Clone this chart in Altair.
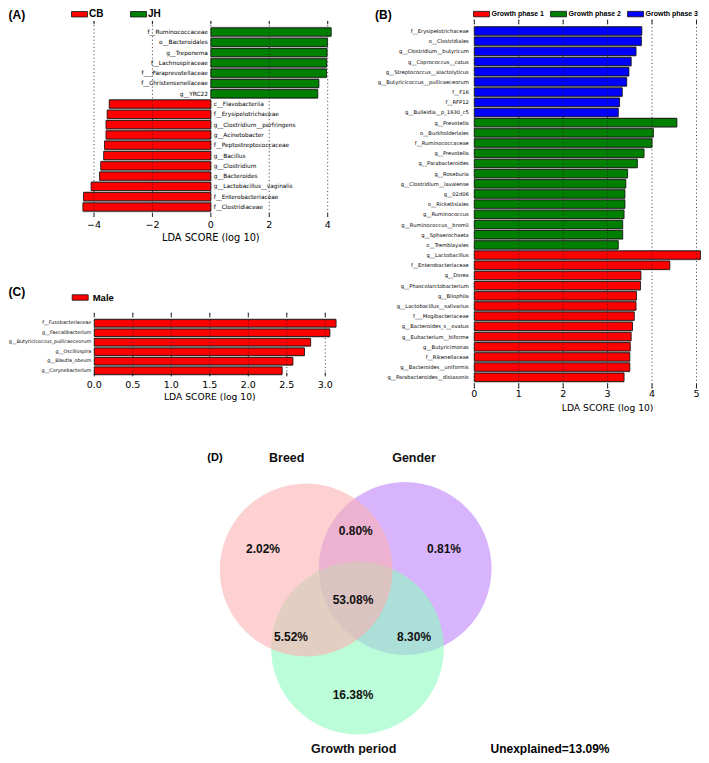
import math
import altair as alt
import pandas as pd

# ---------------- data ----------------
a_labels = ["f__Ruminococcaceae", "o__Bacteroidales", "g__Treponema", "f__Lachnospiraceae",
            "f___Paraprevotellaceae", "f__Christensenellaceae", "g__YRC22",
            "c__Flavobacteriia", "f__Erysipelotrichaceae", "g__Clostridium__perfringens",
            "g__Acinetobacter", "f__Peptostreptococcaceae", "g__Bacillus", "g__Clostridium",
            "g__Bacteroides", "g__Lactobacillus__vaginalis", "f__Enterobacteriaceae",
            "f__Clostridiaceae"]
a_values = [4.12, 3.99, 3.98, 3.97, 3.96, 3.70, 3.66,
            -3.48, -3.55, -3.59, -3.59, -3.64, -3.67, -3.77, -3.81, -4.10, -4.36, -4.38]
a_groups = ["JH"] * 7 + ["CB"] * 11
a_legend = ["CB", "JH"]

b_labels = ["f__Erysipelotrichaceae", "o__Clostridiales", "g__Clostridium__butyricum",
            "g__Coprococcus__catus", "g__Streptococcus__alactolyticus",
            "g__Butyricicoccus__pullicaeceorum", "f__F16", "f__RFP12", "g__Bulleidia__p_1630_c5",
            "g__Prevotella", "o__Burkholderiales", "f__Ruminococcaceae", "g__Prevotella",
            "g__Parabacteroides", "g__Roseburia", "g__Clostridium__lavalense", "g__02d06",
            "o__Rickettsiales", "g__Ruminococcus", "g__Ruminococcus__bromii", "g__Sphaerochaeta",
            "o__Tremblayales",
            "g__Lactobacillus", "f__Enterobacteriaceae", "g__Dorea", "g__Phascolarctobacterium",
            "g__Bilophila", "g__Lactobacillus__salivarius", "f___Mogibacteriaceae",
            "g__Bacteroides_s__ovatus", "g__Eubacterium__biforme", "g__Butyricimonas",
            "f__Rikenellaceae", "g__Bacteroides__uniformis", "g__Parabacteroides__distasonis"]
b_values = [3.77, 3.76, 3.64, 3.53, 3.48, 3.43, 3.33, 3.27, 3.24,
            4.56, 4.03, 4.00, 3.82, 3.67, 3.45, 3.41, 3.39, 3.39, 3.37, 3.34, 3.34, 3.24,
            5.09, 4.40, 3.75, 3.74, 3.65, 3.64, 3.60, 3.56, 3.53, 3.51, 3.50, 3.50, 3.37]
b_groups = ["Growth phase 3"] * 9 + ["Growth phase 2"] * 13 + ["Growth phase 1"] * 13
b_legend = ["Growth phase 1", "Growth phase 2", "Growth phase 3"]

c_labels = ["f__Fusobacteriaceae", "g__Faecalibacterium", "g__Butyricicoccus_pullicaeceorum",
            "g__Oscillospira", "g__Blautia_obeum", "g__Corynebacterium"]
c_values = [3.14, 3.06, 2.81, 2.73, 2.58, 2.44]
c_groups = ["Male"] * 6
c_legend = ["Male"]

a_ticks = [-4, -2, 0, 2, 4]
a_tick_labels = ["\u22124", "\u22122", "0", "2", "4"]
b_ticks = [0, 1, 2, 3, 4, 5]
b_tick_labels = ["0", "1", "2", "3", "4", "5"]
c_ticks = [0.0, 0.5, 1.0, 1.5, 2.0, 2.5, 3.0]
c_tick_labels = ["0.0", "0.5", "1.0", "1.5", "2.0", "2.5", "3.0"]

venn_sets = ["Gender", "Growth period", "Breed"]          # drawing order
venn_pcts = ["2.02%", "0.80%", "0.81%", "53.08%", "5.52%", "8.30%", "16.38%"]
venn_unexplained = "Unexplained=13.09%"
x_title = "LDA SCORE (log 10)"

# ---------------- styles / layout ----------------
RED, GREEN, BLUE = "#ff0000", "#008000", "#0000ff"
venn_colors = ["#be82fa", "#8efcc0", "#fcb1b2"]
W, H = 693, 747


def px(v):
    return round(v - 8, 2)


def py(v):
    return round(v - 8, 2)


def qs(domain, rng):
    return alt.Scale(domain=domain, range=rng, nice=False, zero=False)


SYM = "M-1,-0.34L1,-0.34L1,0.34L-1,0.34Z"


def legend(x, yc, size, offset, colpad):
    return alt.Legend(orient="none", legendX=x, legendY=yc - 8, direction="horizontal",
                      title=None, symbolType=SYM, symbolSize=256,
                      symbolStrokeColor="#111", symbolStrokeWidth=0.8, symbolOpacity=1,
                      labelFont="Liberation Sans", labelFontSize=size, labelFontWeight="bold",
                      labelColor="#000", labelOffset=offset, columnPadding=colpad, padding=0)


def bar_panel(labels, values, groups, dom, rng, xs, ys, half, ticks, tick_labels,
              grid, top_tick, bot_tick, lab_y, title_x, title_y, row_font, tick_font,
              title_font, leg, label_mode, label_dx):
    df = pd.DataFrame({"label": labels, "value": values, "group": groups,
                       "i": list(range(len(labels)))})
    X = lambda f: alt.X(f, type="quantitative", scale=xs, axis=None)
    Y = lambda f: alt.Y(f, type="quantitative", scale=ys, axis=None)
    layers = []
    base = alt.Chart(df).transform_calculate(
        zero="0", lo="datum.i - 0.5", hi="datum.i + 0.5",
        blo="datum.i - %f" % half, bhi="datum.i + %f" % half)
    layers.append(base.mark_rect(color="#9c9c9c").encode(
        x=X("zero"), x2="value", y=Y("lo"), y2="hi"))
    layers.append(base.mark_rect(stroke="#111", strokeWidth=0.8).encode(
        x=X("zero"), x2="value", y=Y("blo"), y2="bhi",
        color=alt.Color("group:N", scale=alt.Scale(domain=dom, range=rng), legend=leg)))
    tdf = pd.DataFrame({"t": ticks, "lab": tick_labels})
    tb = alt.Chart(tdf).transform_calculate(
        g0=str(grid[0]), g1=str(grid[1]), a0=str(top_tick[0]), a1=str(top_tick[1]),
        b0=str(bot_tick[0]), b1=str(bot_tick[1]), ly=str(lab_y))
    layers.append(tb.mark_rule(strokeDash=[1, 2.6], color="#222", strokeWidth=0.9).encode(
        x=X("t"), y=Y("g0"), y2="g1"))
    layers.append(tb.mark_rule(color="#222", strokeWidth=1).encode(x=X("t"), y=Y("a0"), y2="a1"))
    layers.append(tb.mark_rule(color="#222", strokeWidth=1).encode(x=X("t"), y=Y("b0"), y2="b1"))
    layers.append(tb.mark_text(font="DejaVu Sans", fontSize=tick_font, baseline="middle",
                               color="#000").encode(x=X("t"), y=Y("ly"), text="lab:N"))
    ttl = alt.Chart(pd.DataFrame({"t": [x_title]})).transform_calculate(
        tx=str(title_x), ty=str(title_y))
    layers.append(ttl.mark_text(font="DejaVu Sans", fontSize=title_font, baseline="middle",
                                color="#000").encode(x=X("tx"), y=Y("ty"), text="t:N"))
    lb = base
    if label_mode == "split":
        layers.append(lb.transform_filter("datum.value >= 0").mark_text(
            font="DejaVu Sans", fontSize=row_font, align="right", baseline="middle",
            dx=-label_dx, color="#000").encode(x=X("zero"), y=Y("i"), text="label:N"))
        layers.append(lb.transform_filter("datum.value < 0").mark_text(
            font="DejaVu Sans", fontSize=row_font, align="left", baseline="middle",
            dx=label_dx, color="#000").encode(x=X("zero"), y=Y("i"), text="label:N"))
    else:
        layers.append(lb.mark_text(
            font="DejaVu Sans", fontSize=row_font, align="right", baseline="middle",
            dx=-label_dx, color="#000").encode(x=X("zero"), y=Y("i"), text="label:N"))
    return layers


def note(text, x, y, size, align="left"):
    return alt.Chart(pd.DataFrame({"t": [text]})).mark_text(
        font="Liberation Sans", fontWeight="bold", fontSize=size, align=align,
        baseline="middle", color="#000").encode(x=alt.value(x), y=alt.value(y), text="t:N")


layers = []

# Panel A
layers += bar_panel(
    a_labels, a_values, a_groups, a_legend, [RED, GREEN],
    qs([-4, 4], [px(94.0), px(327.7)]), qs([0, 17], [py(32), py(207)]), 0.40,
    a_ticks, a_tick_labels, (-1.0, 17.95), (-1.08, -0.75), (17.6, 17.95), 18.7, 0, 19.97,
    5.8, 9.5, 9.8, legend(px(71.0), 5.5, 10, 1, 24), "split", 3)

# Panel B
layers += bar_panel(
    b_labels, b_values, b_groups, b_legend, [RED, GREEN, BLUE],
    qs([0, 5], [px(474.3), px(696.5)]), qs([0, 34], [py(31), py(377.3)]), 0.41,
    b_ticks, b_tick_labels, (-1.1, 35.1), (-1.1, -0.7), (34.6, 35.1), 35.63, 3, 37.0,
    5.2, 9.5, 9.2, legend(px(473.0), 5.5, 7, 1.5, 3), "left", 5.5)

# Panel C
layers += bar_panel(
    c_labels, c_values, c_groups, c_legend, [RED],
    qs([0, 3], [px(94.3), px(325.3)]), qs([0, 5], [py(323.3), py(370.7)]), 0.39,
    c_ticks, c_tick_labels, (-1.1, 5.6), (-1.1, -0.7), (5.2, 5.6), 6.5, 1.5, 7.77,
    4.85, 9.5, 9.2, legend(px(71.7), py(297), 9.5, 4, 10), "left", 3)

# Panel labels
layers.append(note("(A)", 0.5, 6.5, 12))
layers.append(note("(B)", px(375), 6.5, 12))
layers.append(note("(C)", 0.5, py(292), 12))

# Panel D : Venn diagram (coordinates in units of circle radius)
xsV = qs([-1, 1], [px(259.5), px(454.5)])
ysV = qs([-1, 1], [py(697.5), py(502.5)])
R = 97.5
venn_df = pd.DataFrame({"set": venn_sets, "k": [0, 1, 2],
                        "cx": [0.494, 0.005, -0.521], "cy": [0.323, -0.492, 0.308]})
layers.append(alt.Chart(venn_df).mark_circle(opacity=0.6, size=math.pi * R * R).encode(
    x=alt.X("cx:Q", scale=xsV, axis=None), y=alt.Y("cy:Q", scale=ysV, axis=None),
    color=alt.Color("set:N", scale=alt.Scale(domain=venn_sets, range=venn_colors), legend=None),
    order=alt.Order("k:Q")))
pct_df = pd.DataFrame({"t": venn_pcts,
                       "x": [-0.964, -0.013, 0.892, -0.041, -0.677, 0.585, -0.041],
                       "y": [0.523, 0.711, 0.523, 0.0, -0.379, -0.379, -0.974]})
name_df = pd.DataFrame({"t": ["Breed", "Gender", "Growth period"],
                        "x": [-0.721, 0.585, -0.034], "y": [1.456, 1.456, -1.53]})
for d, size in [(pct_df, 12), (name_df, 12.5)]:
    layers.append(alt.Chart(d).mark_text(
        font="Liberation Sans", fontWeight="bold", fontSize=size, baseline="middle",
        color="#111").encode(x=alt.X("x:Q", scale=xsV, axis=None),
                             y=alt.Y("y:Q", scale=ysV, axis=None), text="t:N"))
layers.append(note(venn_unexplained, px(550), 741, 12, "center"))
layers.append(note("(D)", px(207.3), py(457.7), 11))

chart = alt.layer(*layers).resolve_scale(
    x="independent", y="independent", color="independent"
).resolve_legend(color="independent").properties(
    width=W, height=H, autosize=alt.AutoSizeParams(type="none"), padding=0
).configure_view(strokeWidth=0)

chart.save("out.html", embed_options={"renderer": "svg", "actions": False})
